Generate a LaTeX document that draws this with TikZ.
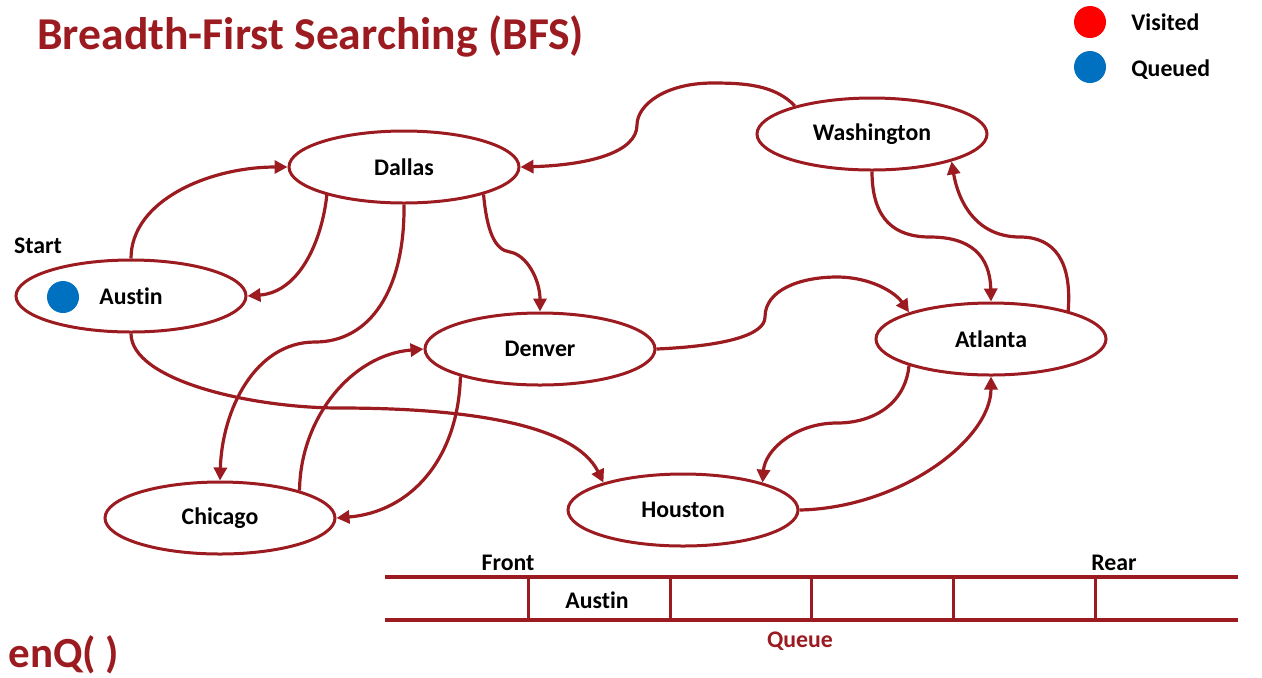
\documentclass[tikz,border=0pt]{standalone}
\usepackage{fontspec}
\setmainfont{Carlito}[Ligatures={NoCommon}]
\usetikzlibrary{shapes.geometric,arrows.meta}
\definecolor{brick}{HTML}{9B1B20}
\definecolor{qblue}{HTML}{0070C0}
\begin{document}
\begin{tikzpicture}[x=0.5pt,y=-0.5pt,
  city/.style={ellipse, draw=brick, line width=1.5pt, minimum width=115pt, minimum height=36pt, inner sep=0pt, font=\bfseries\fontsize{11.9}{14}\selectfont},
  edge/.style={draw=brick, line width=1.6pt, -{Triangle[length=6.5pt,width=6.5pt]}},
  lbl/.style={font=\bfseries\fontsize{11.9}{14}\selectfont, inner sep=0pt},
  qline/.style={draw=brick, line width=2pt},
  qdiv/.style={draw=brick, line width=1.5pt},
  dot/.style={circle, minimum size=16pt, inner sep=0pt}]
\useasboundingbox (0,0) rectangle (1262,677);

% title and labels
\node[anchor=base west, inner sep=0pt, text=brick, font=\bfseries\fontsize{22.8}{27}\selectfont] (title) at (37,49) {Breadth-First Searching (BFS)};
\node[anchor=base west, inner sep=0pt, text=brick, font=\bfseries\fontsize{21.5}{25}\selectfont] (enq) at (8,667) {enQ( )};

% legend
\node[dot, fill=red] (vdot) at (1090,22) {};
\node[dot, fill=qblue] (qdot) at (1090,67) {};
\node[lbl, anchor=base west] (vis) at (1131,30) {Visited};
\node[lbl, anchor=base west] (que) at (1131,76) {Queued};

% cities
\node[city] (Dallas) at (404,167) {Dallas};
\node[city] (Washington) at (872,134) {Washington};
\node[city] (Austin) at (131,296) {Austin};
\node[city] (Denver) at (540,349) {Denver};
\node[city] (Atlanta) at (991,339) {Atlanta};
\node[city] (Chicago) at (220,518) {Chicago};
\node[city] (Houston) at (683,510) {Houston};
\node[dot, fill=qblue] (adot) at (63,297) {};
\node[lbl, anchor=base] (start) at (38,253) {Start};

% edges
\draw[edge] (Austin.north) .. controls (131,200) and (210,167) .. (Dallas.west);
\draw[edge] (Dallas.200) .. controls (322,240) and (300,292) .. (Austin.east);
\draw[edge] (Dallas.south) .. controls (405,290) and (370,342) .. (315,342) .. controls (255,342) and (222,410) .. (Chicago.north);
\draw[edge] (Dallas.341) .. controls (487,232) and (495,250) .. (510,252) .. controls (527,255) and (540,280) .. (Denver.north);
\draw[edge] (Washington.160) .. controls (775,85) and (745,83) .. (713,83) .. controls (665,83) and (637,105) .. (637,125) .. controls (637,152) and (590,165) .. (Dallas.east);
\draw[edge] (Denver.east) .. controls (725,346) and (765,335) .. (765,317) .. controls (765,290) and (800,277) .. (837,277) .. controls (870,277) and (895,292) .. (Atlanta.162);
\draw[edge] (Washington.south) .. controls (872,220) and (895,237) .. (930,237) .. controls (970,237) and (990,255) .. (Atlanta.north);
\draw[edge] (Atlanta.20) .. controls (1072,262) and (1055,237) .. (1020,237) .. controls (975,237) and (958,200) .. (Washington.341);
\draw[edge] (Austin.south) .. controls (131,380) and (250,408) .. (340,408) .. controls (470,408) and (575,425) .. (Houston.161);
\draw[edge] (Chicago.19) .. controls (300,420) and (350,355) .. (Denver.west);
\draw[edge] (Denver.199) .. controls (458,460) and (410,512) .. (Chicago.east);
\draw[edge] (Atlanta.198) .. controls (905,405) and (872,423) .. (837,423) .. controls (795,423) and (765,450) .. (Houston.19);
\draw[edge] (Houston.east) .. controls (900,508) and (991,440) .. (Atlanta.south);

% queue
\draw[qline] (385,577) -- (1238,577);
\draw[qline] (385,620) -- (1238,620);
\foreach \x in {528,670,811,953,1095} \draw[qdiv] (\x,577) -- (\x,620);
\node[lbl, anchor=base] (front) at (508,570) {Front};
\node[lbl, anchor=base] (rear) at (1114,570) {Rear};
\node[lbl, anchor=base] (qaustin) at (597,608) {Austin};
\node[lbl, anchor=base, text=brick] (qname) at (800,647) {Queue};
\end{tikzpicture}
\end{document}
